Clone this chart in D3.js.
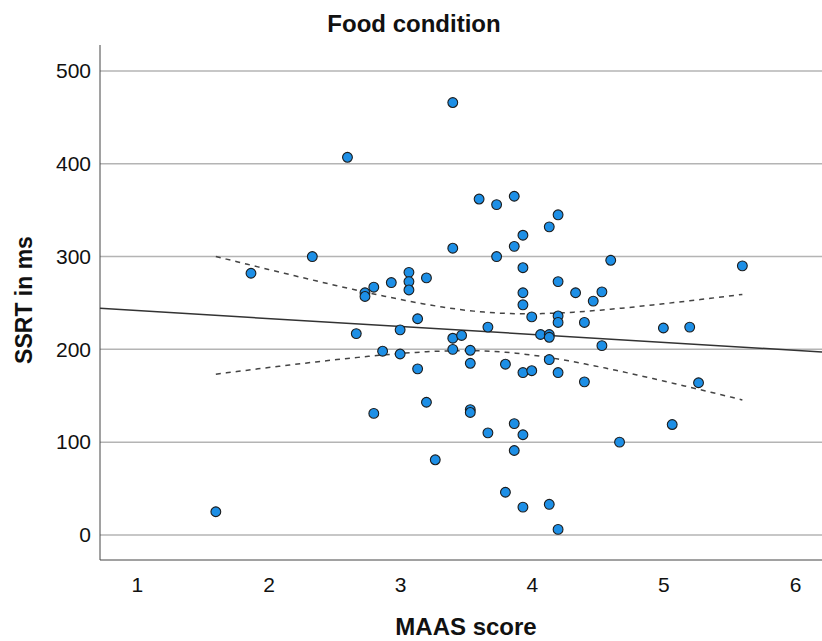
<!DOCTYPE html>
<html>
<head>
<meta charset="utf-8">
<script src="https://cdn.jsdelivr.net/npm/d3@7"></script>
<style>
  body { margin: 0; background: #fff; }
  text { font-family: "Liberation Sans", Arial, sans-serif; fill: #111; }
</style>
</head>
<body>
<script>
// MAAS score (x) and SSRT in ms (y)
var maas = [1.6, 1.867, 2.333, 2.6, 2.667, 2.733, 2.733, 2.8, 2.8, 2.867,
  2.933, 3.0, 3.0, 3.067, 3.067, 3.067, 3.133, 3.133, 3.2, 3.2,
  3.267, 3.4, 3.4, 3.4, 3.4, 3.467, 3.533, 3.533, 3.533, 3.533,
  3.6, 3.667, 3.667, 3.733, 3.733, 3.8, 3.8, 3.867, 3.867, 3.867,
  3.867, 3.933, 3.933, 3.933, 3.933, 3.933, 3.933, 3.933, 4.0, 4.0,
  4.067, 4.133, 4.133, 4.133, 4.133, 4.133, 4.2, 4.2, 4.2, 4.2,
  4.2, 4.2, 4.333, 4.4, 4.4, 4.467, 4.533, 4.533, 4.6, 4.667,
  5.0, 5.067, 5.2, 5.267, 5.6];
var ssrt = [25, 282, 300, 407, 217, 261, 257, 267, 131, 198,
  272, 221, 195, 283, 273, 264, 233, 179, 277, 143,
  81, 466, 309, 212, 200, 215, 199, 185, 135, 132,
  362, 224, 110, 356, 300, 184, 46, 365, 311, 120,
  91, 323, 288, 261, 248, 175, 108, 30, 235, 177,
  216, 332, 216, 213, 189, 33, 345, 273, 236, 229,
  175, 6, 261, 229, 165, 252, 262, 204, 296, 100,
  223, 119, 224, 164, 290];

var xTicks = [1, 2, 3, 4, 5, 6];
var yTicks = [0, 100, 200, 300, 400, 500];

var width = 822, height = 641;
var plotLeft = 100, plotRight = 822, plotTop = 45, plotBottom = 560;

var svg = d3.select("body")
	.append("svg")
	.attr("width", width)
	.attr("height", height);

var x = d3.scaleLinear().domain([0.72, 6.205]).range([plotLeft, plotRight]);
var y = d3.scaleLinear().domain([-27, 528]).range([plotBottom, plotTop]);

// gridlines
svg.selectAll(".grid")
	.data(yTicks)
	.enter().append("line")
	.attr("x1", plotLeft).attr("x2", plotRight)
	.attr("y1", d => y(d)).attr("y2", d => y(d))
	.style("stroke", "#b4b4b4")
	.style("stroke-width", 1.5);

// axes (no tick marks, just labels)
var xAxis = svg.append("g")
	.attr("transform", "translate(0," + plotBottom + ")")
	.call(d3.axisBottom(x).tickValues(xTicks).tickFormat(d3.format("d")).tickSize(0).tickPadding(17));
var yAxis = svg.append("g")
	.attr("transform", "translate(" + plotLeft + ",0)")
	.call(d3.axisLeft(y).tickValues(yTicks).tickFormat(d3.format("d")).tickSize(0).tickPadding(9));

[xAxis, yAxis].forEach(function(g) {
	g.select(".domain").remove();
	g.selectAll("text")
		.style("font-family", "'Liberation Sans', Arial, sans-serif")
		.style("font-size", "21px")
		.style("fill", "#111");
});

svg.append("line")
	.attr("x1", plotLeft).attr("x2", plotLeft).attr("y1", plotTop).attr("y2", plotBottom)
	.style("stroke", "#444").style("stroke-width", 1);
svg.append("line")
	.attr("x1", plotLeft).attr("x2", plotRight).attr("y1", plotBottom).attr("y2", plotBottom)
	.style("stroke", "#444").style("stroke-width", 1);

// linear fit and 95% confidence band of the mean
var pts = maas.map((m, i) => [m, ssrt[i]]);
var n = pts.length;
var mx = d3.mean(maas), my = d3.mean(ssrt);
var sxx = d3.sum(maas, v => (v - mx) * (v - mx));
var sxy = d3.sum(pts, p => (p[0] - mx) * (p[1] - my));
var slope = sxy / sxx;
var icpt = my - slope * mx;
var sse = d3.sum(pts, p => Math.pow(p[1] - (icpt + slope * p[0]), 2));
var s = Math.sqrt(sse / (n - 2));
var tval = 1.993;

var fit = v => icpt + slope * v;
var half = v => tval * s * Math.sqrt(1 / n + (v - mx) * (v - mx) / sxx);

svg.append("line")
	.attr("x1", x(0.72)).attr("x2", x(6.205))
	.attr("y1", y(fit(0.72))).attr("y2", y(fit(6.205)))
	.style("stroke", "#333")
	.style("stroke-width", 1.5);

var xs = d3.range(0, 101).map(i => d3.min(maas) + i * (d3.max(maas) - d3.min(maas)) / 100);
var upper = d3.line().x(v => x(v)).y(v => y(fit(v) + half(v)));
var lower = d3.line().x(v => x(v)).y(v => y(fit(v) - half(v)));
[upper, lower].forEach(function(l) {
	svg.append("path")
		.attr("d", l(xs))
		.style("fill", "none")
		.style("stroke", "#444")
		.style("stroke-width", 1.5)
		.style("stroke-dasharray", "5,5");
});

// points
svg.selectAll(".pt")
	.data(pts)
	.enter().append("circle")
	.attr("cx", d => x(d[0]))
	.attr("cy", d => y(d[1]))
	.attr("r", 4.9)
	.style("fill", "#1d8fe6")
	.style("stroke", "#1c1c1c")
	.style("stroke-width", 1.1);

// titles
svg.append("text")
	.attr("x", 414).attr("y", 32)
	.attr("text-anchor", "middle")
	.style("font-size", "24px").style("font-weight", "bold")
	.text("Food condition");

svg.append("text")
	.attr("x", 466).attr("y", 635)
	.attr("text-anchor", "middle")
	.style("font-size", "24px").style("font-weight", "bold")
	.text("MAAS score");

svg.append("text")
	.attr("transform", "translate(32,300) rotate(-90)")
	.attr("text-anchor", "middle")
	.style("font-size", "23px").style("font-weight", "bold")
	.text("SSRT in ms");
</script>
</body>
</html>
